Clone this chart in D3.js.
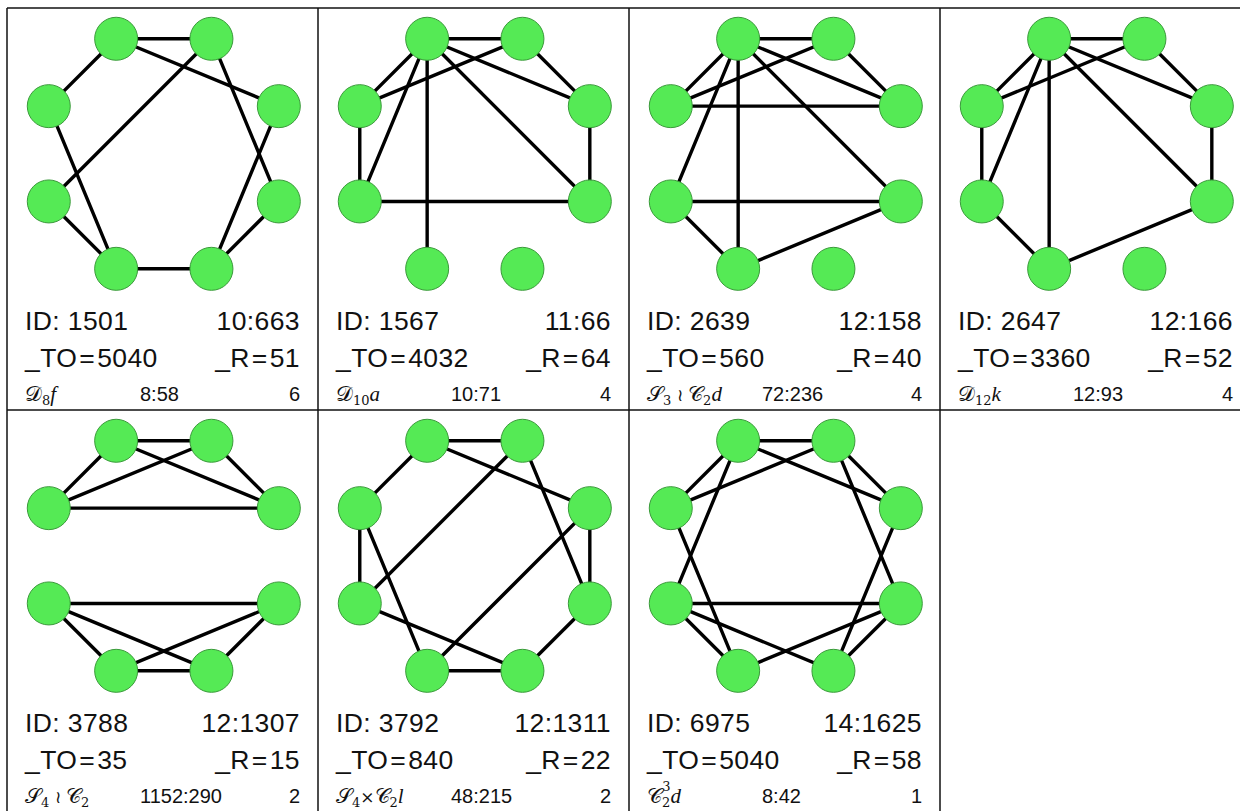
<!DOCTYPE html>
<html>
<head>
<meta charset="utf-8">
<script src="https://cdn.jsdelivr.net/npm/d3@7"></script>
<style>
  html, body { margin: 0; padding: 0; background: #fff; }
  svg { display: block; }
</style>
</head>
<body>
<svg id="chart" width="1240" height="811"></svg>
<script>
// ---------- data ----------
const graphIds   = ["1501", "1567", "2639", "2647", "3788", "3792", "6975"];
const ratioTop   = ["10:663", "11:66", "12:158", "12:166", "12:1307", "12:1311", "14:1625"];
const toValues   = [5040, 4032, 560, 3360, 35, 840, 5040];
const rValues    = [51, 64, 40, 52, 15, 22, 58];
const groupNames = [
  [["𝒟","cal"],["8","sub"],["f","it"]],
  [["𝒟","cal"],["10","sub"],["a","it"]],
  [["𝒮","cal"],["3","sub"],[" ≀ ","op"],["𝒞","cal"],["2","sub"],["d","it"]],
  [["𝒟","cal"],["12","sub"],["k","it"]],
  [["𝒮","cal"],["4","sub"],[" ≀ ","op"],["𝒞","cal"],["2","sub"]],
  [["𝒮","cal"],["4","sub"],["×","op"],["𝒞","cal"],["2","sub"],["l","it"]],
  [["𝒞","cal"],["2","sub"],["3","sup"],["d","it"]]
];
const groupOrders = ["8:58", "10:71", "72:236", "12:93", "1152:290", "48:215", "8:42"];
const counts      = [6, 4, 4, 4, 2, 2, 1];
// nodes 0..7 clockwise starting at top-left
const edgeLists = [
  [[0,1],[0,7],[0,2],[1,6],[1,3],[7,5],[6,5],[5,4],[2,4],[3,4]],
  [[0,1],[0,7],[0,6],[0,5],[0,2],[0,3],[1,7],[1,2],[7,6],[6,3],[2,3]],
  [[0,1],[0,7],[0,6],[0,5],[0,2],[0,3],[1,7],[1,2],[7,2],[6,3],[6,5],[5,3]],
  [[0,1],[0,7],[0,6],[0,5],[0,2],[0,3],[1,7],[1,2],[7,6],[2,3],[6,5],[5,3]],
  [[0,1],[0,7],[0,2],[1,7],[1,2],[7,2],[6,3],[6,5],[6,4],[3,5],[3,4],[5,4]],
  [[0,1],[0,7],[0,2],[1,6],[1,3],[7,6],[7,5],[2,3],[2,5],[6,4],[3,4],[5,4]],
  [[0,1],[0,7],[0,6],[0,2],[1,7],[1,2],[1,3],[7,5],[2,4],[6,3],[6,5],[6,4],[3,5],[3,4]]
];
const nodeCount = 8;

// ---------- layout ----------
const svg = d3.select("#chart");
const ncols = 4, nrows = 2;
const colScale = d3.scaleLinear().domain([0, ncols]).range([7, 7 + 311 * ncols]);
const rowScale = d3.scaleLinear().domain([0, nrows]).range([8, 8 + 402 * nrows]);

// node positions on circle (unit coords -> cell px)
const angle = d3.scaleLinear().domain([0, nodeCount]).range([-Math.PI * 5 / 8, -Math.PI * 5 / 8 + 2 * Math.PI]);
const nx = d3.scaleLinear().domain([-1, 1]).range([156.8 - 124.5, 156.8 + 124.5]);
const ny = d3.scaleLinear().domain([-1, 1]).range([145.8 - 124.5, 145.8 + 124.5]);
const nodePos = d3.range(nodeCount).map(i => {
  const a = angle(i);
  return [nx(Math.cos(a)), ny(Math.sin(a))];
});

// grid lines
const grid = svg.append("g").attr("stroke", "#111").attr("stroke-width", 1.5);
[0, 1, 2].forEach(r => {
  grid.append("line").attr("x1", colScale(0)).attr("x2", colScale(ncols)).attr("y1", rowScale(r)).attr("y2", rowScale(r));
});
[0, 1, 2, 3, 4].forEach(c => {
  grid.append("line").attr("x1", colScale(c)).attr("x2", colScale(c)).attr("y1", rowScale(0)).attr("y2", rowScale(2));
});

const cells = svg.selectAll("g.cell")
  .data(graphIds.map((id, i) => ({ i, id })))
  .join("g")
  .attr("class", "cell")
  .attr("transform", d => `translate(${colScale(d.i % ncols)},${rowScale(Math.floor(d.i / ncols))})`);

// edges
cells.append("g")
  .selectAll("line")
  .data(d => edgeLists[d.i])
  .join("line")
  .attr("x1", e => nodePos[e[0]][0]).attr("y1", e => nodePos[e[0]][1])
  .attr("x2", e => nodePos[e[1]][0]).attr("y2", e => nodePos[e[1]][1])
  .attr("stroke", "#000").attr("stroke-width", 3.4).attr("stroke-linecap", "round");

// nodes
cells.append("g")
  .selectAll("circle")
  .data(d3.range(nodeCount))
  .join("circle")
  .attr("cx", k => nodePos[k][0]).attr("cy", k => nodePos[k][1])
  .attr("r", 21.5)
  .attr("fill", "#55ea55")
  .attr("stroke", "#3b9a3b").attr("stroke-width", 1);

const font = "'Liberation Sans', Arial, sans-serif";
const L = 18, R = 293;

// line 1
cells.append("text").attr("x", L).attr("y", 322)
  .attr("font-family", font).attr("font-size", 26.5).attr("letter-spacing", 0.4).attr("fill", "#111")
  .text(d => "ID: " + d.id);
cells.append("text").attr("x", R).attr("y", 322).attr("text-anchor", "end")
  .attr("font-family", font).attr("font-size", 26.5).attr("letter-spacing", 0.4).attr("fill", "#111")
  .text(d => ratioTop[d.i]);

// line 2
function eqText(sel, prefix, val) {
  sel.append("tspan").text(prefix);
  sel.append("tspan").attr("dx", 2).text("=");
  sel.append("tspan").attr("dx", 2).text(val);
}
cells.append("text").attr("x", L).attr("y", 359)
  .attr("font-family", font).attr("font-size", 26.5).attr("letter-spacing", 0.4).attr("fill", "#111")
  .each(function(d) { eqText(d3.select(this), "_TO", toValues[d.i]); });
cells.append("text").attr("x", R).attr("y", 359).attr("text-anchor", "end")
  .attr("font-family", font).attr("font-size", 26.5).attr("letter-spacing", 0.4).attr("fill", "#111")
  .each(function(d) { eqText(d3.select(this), "_R", rValues[d.i]); });

// line 3
cells.append("text").attr("x", L).attr("y", 393)
  .attr("font-family", "'DejaVu Serif', 'Liberation Serif', serif").attr("font-size", 21).attr("fill", "#111")
  .each(function(d) {
    const t = d3.select(this);
    let shifted = 0;
    groupNames[d.i].forEach(([s, style]) => {
      const sp = t.append("tspan").text(s);
      let dy = 0;
      if (style === "sub") { sp.attr("font-size", 13); dy = 4; }
      if (style === "sup") { sp.attr("font-size", 13); dy = -12; sp.attr("dx", -8); }
      if (style === "it") { sp.attr("font-style", "italic").attr("font-family", "'Liberation Serif', serif").attr("font-size", 21); }
      if (style === "op") { sp.attr("font-size", 17); }
      sp.attr("dy", dy - shifted);
      shifted = dy;
    });
  });
cells.append("text").attr("x", 133).attr("y", 393)
  .attr("font-family", font).attr("font-size", 20).attr("fill", "#111")
  .text(d => groupOrders[d.i]);
cells.append("text").attr("x", R).attr("y", 393).attr("text-anchor", "end")
  .attr("font-family", font).attr("font-size", 20).attr("fill", "#111")
  .text(d => counts[d.i]);
</script>
</body>
</html>
